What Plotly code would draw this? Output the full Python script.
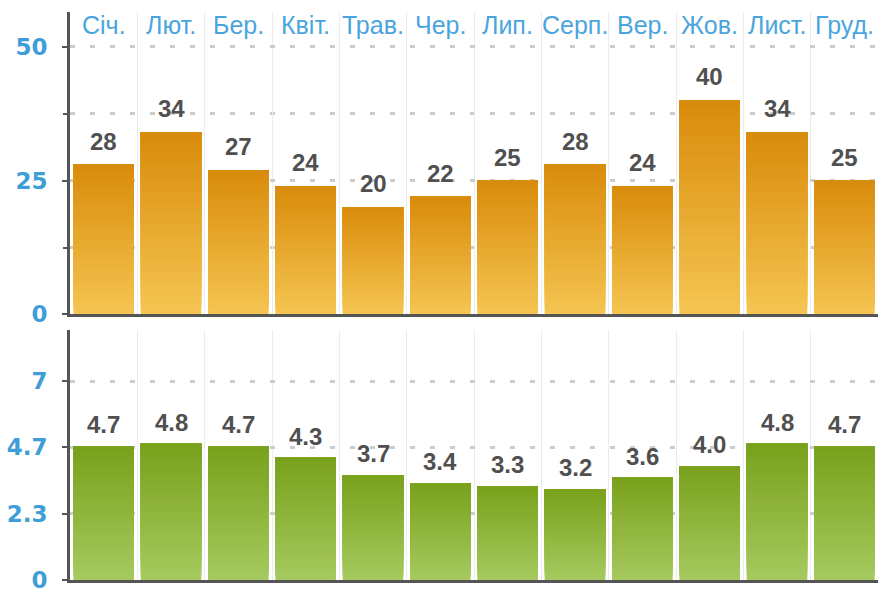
import plotly.graph_objects as go

# Monthly categories (Ukrainian abbreviations)
months = ["Січ.", "Лют.", "Бер.", "Квіт.", "Трав.", "Чер.",
          "Лип.", "Серп.", "Вер.", "Жов.", "Лист.", "Груд."]

# Upper panel series
upper_values = [28, 34, 27, 24, 20, 22, 25, 28, 24, 40, 34, 25]
upper_ticks = [0, 25, 50]

# Lower panel series
lower_values = [4.7, 4.8, 4.7, 4.3, 3.7, 3.4, 3.3, 3.2, 3.6, 4.0, 4.8, 4.7]
lower_ticks = [0, 7 / 3, 14 / 3, 7]
lower_ticktext = ["0", "2.3", "4.7", "7"]

AXIS = "#555555"
BLUE = "#3f9dd8"
MONTH_BLUE = "#4aa5de"
LABEL = "#505050"
GRID = "#cccccc"
VGRID = "#ececec"
FONT = "Liberation Sans"

# Vertical shading: bottom colour -> top colour
ORANGE = ((0xF5, 0xC4, 0x50), (0xD8, 0x8A, 0x0A))
GREEN = ((0xA5, 0xC9, 0x5E), (0x78, 0xA0, 0x1A))
STEPS = 30


def blend(pair, t):
    lo, hi = pair
    return "rgb({},{},{})".format(*(round(a + (b - a) * t) for a, b in zip(lo, hi)))


def shaded_bars(fig, values, xa, ya, pair):
    # Full bar first, then progressively darker layers that start higher
    # and all end at the bar's value, giving a bottom-to-top shading.
    for k in range(STEPS):
        frac = k / STEPS
        fig.add_trace(go.Bar(
            x=months, y=[v * (1 - frac) for v in values],
            base=[v * frac for v in values],
            xaxis=xa, yaxis=ya,
            marker=dict(color=blend(pair, frac), line=dict(width=0)),
            hoverinfo="skip" if k else "x+y", showlegend=False,
        ))


fig = go.Figure()
shaded_bars(fig, upper_values, "x", "y", ORANGE)
shaded_bars(fig, lower_values, "x2", "y2", GREEN)

# Value labels above each bar
for m, v in zip(months, upper_values):
    fig.add_annotation(x=m, y=v, xref="x", yref="y", text=f"{v:d}",
                       showarrow=False, yanchor="bottom", yshift=8,
                       font=dict(family=FONT, size=24, color=LABEL, weight="bold"))
for m, v in zip(months, lower_values):
    fig.add_annotation(x=m, y=v, xref="x2", yref="y2", text=f"{v:.1f}",
                       showarrow=False, yanchor="bottom", yshift=6,
                       font=dict(family=FONT, size=24, color=LABEL, weight="bold"))

# Month names along the top edge of the upper panel
for m in months:
    fig.add_annotation(x=m, y=1, xref="x", yref="y domain", text=m,
                       showarrow=False, yanchor="top", yshift=3,
                       font=dict(family=FONT, size=25, color=MONTH_BLUE))

ytick_font = dict(family="DejaVu Sans", size=23, color=BLUE, weight="bold")

fig.update_layout(
    width=881, height=596,
    margin=dict(l=70, r=3, t=12, b=13),
    paper_bgcolor="white", plot_bgcolor="white",
    barmode="overlay", bargap=0.1,
    font=dict(family=FONT),
    xaxis=dict(
        domain=[0, 1], anchor="y", type="category", categoryorder="array",
        categoryarray=months, showticklabels=False, ticks="",
        showline=True, linecolor=AXIS, linewidth=3,
        showgrid=True, gridcolor=VGRID, gridwidth=1,
        tickson="boundaries", zeroline=False,
    ),
    yaxis=dict(
        domain=[0.4676, 1], anchor="x", range=[0, 56.5],
        tickvals=upper_ticks, ticks="outside", ticklen=5, tickwidth=2,
        tickcolor=AXIS, showline=True, linecolor=AXIS, linewidth=3,
        showgrid=True, gridcolor=GRID, gridwidth=3, griddash="5px,15px",
        minor=dict(dtick=12.5, tick0=0, ticks="outside", ticklen=4,
                   tickwidth=2, tickcolor=AXIS, showgrid=True,
                   gridcolor=GRID, gridwidth=3, griddash="5px,15px"),
        zeroline=False, tickfont=ytick_font, ticklabelstandoff=10,
    ),
    xaxis2=dict(
        domain=[0, 1], anchor="y2", type="category", categoryorder="array",
        categoryarray=months, showticklabels=False, ticks="",
        showline=True, linecolor=AXIS, linewidth=3,
        showgrid=True, gridcolor=VGRID, gridwidth=1, tickson="boundaries",
        zeroline=False,
    ),
    yaxis2=dict(
        domain=[0, 0.4396], anchor="x2", range=[0, 8.79],
        tickvals=lower_ticks, ticktext=lower_ticktext,
        ticks="outside", ticklen=5, tickwidth=2, tickcolor=AXIS,
        showline=True, linecolor=AXIS, linewidth=3,
        showgrid=True, gridcolor=GRID, gridwidth=3, griddash="5px,15px",
        zeroline=False, tickfont=ytick_font, ticklabelstandoff=10,
    ),
)

fig.write_html("out.html")
